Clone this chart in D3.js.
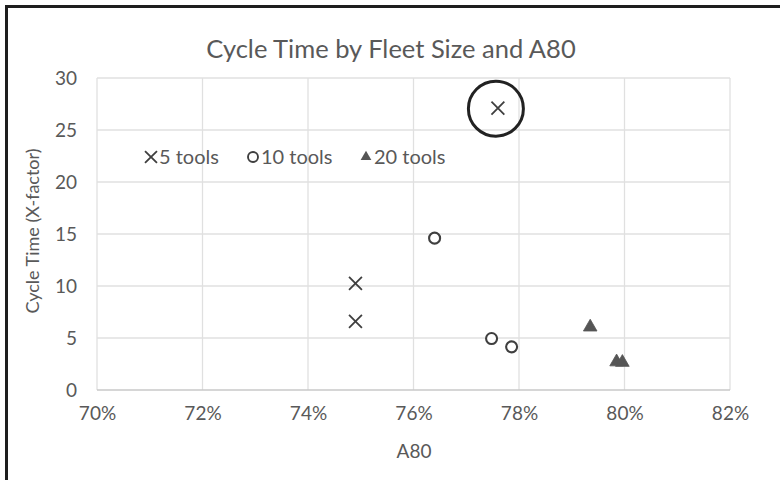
<!DOCTYPE html>
<html><head><meta charset="utf-8">
<script src="https://cdn.jsdelivr.net/npm/d3@7"></script>
<style>
html,body{margin:0;padding:0;background:#fff;}
svg{display:block;}
text{font-family:Lato, "Open Sans", sans-serif;}
</style></head>
<body>
<svg id="c" width="780" height="480"></svg>
<script>
const title = "Cycle Time by Fleet Size and A80";
const xTitle = "A80";
const yTitle = "Cycle Time (X-factor)";
const xTicks = [0.70, 0.72, 0.74, 0.76, 0.78, 0.80, 0.82];
const yTicks = [0, 5, 10, 15, 20, 25, 30];
const seriesNames = ["5 tools", "10 tools", "20 tools"];
const tools5 = [[0.749, 10.25], [0.749, 6.6], [0.776, 27.1]];
const tools10 = [[0.764, 14.6], [0.7748, 4.95], [0.7786, 4.15]];
const tools20 = [[0.7935, 6.05], [0.7985, 2.7], [0.7996, 2.65]];
const highlighted = [0.776, 27.1];

const svg = d3.select("#c");
const M = {l: 97, r: 730, t: 78, b: 390};
const x = d3.scaleLinear().domain([0.70, 0.82]).range([M.l, M.r]);
const y = d3.scaleLinear().domain([0, 30]).range([M.b, M.t]);
const txt = "#595959", mark = "#3f3f3f";

// outer frame
svg.append("rect").attr("x", 6.5).attr("y", 6.5).attr("width", 800).attr("height", 600)
  .attr("fill", "#fff").attr("stroke", "#1e1e1e").attr("stroke-width", 3);

// gridlines
svg.append("g").selectAll("line.v").data(xTicks).join("line")
  .attr("x1", d => x(d)).attr("x2", d => x(d)).attr("y1", M.t).attr("y2", M.b)
  .attr("stroke", "#e0e0e0").attr("stroke-width", 1.3);
svg.append("g").selectAll("line.h").data(yTicks).join("line")
  .attr("x1", M.l).attr("x2", M.r).attr("y1", d => y(d)).attr("y2", d => y(d))
  .attr("stroke", d => d === 0 ? "#c8c8c8" : "#e0e0e0").attr("stroke-width", d => d === 0 ? 1.6 : 1.3);

// axes
const xAxis = svg.append("g").attr("transform", `translate(0,${M.b})`)
  .call(d3.axisBottom(x).tickValues(xTicks).tickFormat(d3.format(".0%")).tickSize(0).tickPadding(17));
xAxis.select(".domain").remove();
xAxis.selectAll("text").attr("fill", txt).style("font-size", "19px").style("font-family", "Lato, sans-serif");

const yAxis = svg.append("g").attr("transform", `translate(${M.l},0)`)
  .call(d3.axisLeft(y).tickValues(yTicks).tickSize(0).tickPadding(20));
yAxis.select(".domain").remove();
yAxis.selectAll("text").attr("fill", txt).style("font-size", "19px").style("font-family", "Lato, sans-serif");

// titles
svg.append("text").attr("x", 391).attr("y", 58).attr("text-anchor", "middle")
  .attr("fill", txt).style("font-size", "25.5px").text(title);
svg.append("text").attr("x", 414).attr("y", 458).attr("text-anchor", "middle")
  .attr("fill", txt).style("font-size", "19px").text(xTitle);
svg.append("text").attr("transform", "translate(39,231) rotate(-90)").attr("text-anchor", "middle")
  .attr("fill", txt).style("font-size", "18px").text(yTitle);

// markers
const cross = d3.symbol().type(d3.symbolX).size(110);
svg.append("g").selectAll("path").data(tools5).join("path")
  .attr("transform", d => `translate(${x(d[0])},${y(d[1])})`)
  .attr("d", cross).attr("fill", "none").attr("stroke", mark).attr("stroke-width", 1.8);
svg.append("g").selectAll("circle").data(tools10).join("circle")
  .attr("cx", d => x(d[0])).attr("cy", d => y(d[1])).attr("r", 5.5)
  .attr("fill", "#fff").attr("stroke", mark).attr("stroke-width", 2.1);
const tri = d3.symbol().type(d3.symbolTriangle).size(80);
svg.append("g").selectAll("path").data(tools20).join("path")
  .attr("transform", d => `translate(${x(d[0])},${y(d[1])})`)
  .attr("d", tri).attr("fill", "#555").attr("stroke", "#555").attr("stroke-width", 0.8);

// highlight circle
svg.append("circle").attr("cx", x(highlighted[0]) - 2).attr("cy", y(highlighted[1]) + 0.5).attr("r", 27.5)
  .attr("fill", "none").attr("stroke", "#222").attr("stroke-width", 3);

// legend
const legY = 157;
const leg = svg.append("g");
const legX = [151, 253, 366];
leg.append("path").attr("transform", `translate(${legX[0]},${legY})`).attr("d", d3.symbol().type(d3.symbolX).size(95))
  .attr("fill", "none").attr("stroke", mark).attr("stroke-width", 1.8);
leg.append("circle").attr("cx", legX[1]).attr("cy", legY).attr("r", 5)
  .attr("fill", "#fff").attr("stroke", mark).attr("stroke-width", 1.9);
leg.append("path").attr("transform", `translate(${legX[2]},${legY})`).attr("d", d3.symbol().type(d3.symbolTriangle).size(50))
  .attr("fill", "#555");
leg.selectAll("text").data(seriesNames).join("text")
  .attr("x", (d, i) => legX[i] + 8).attr("y", legY + 7)
  .attr("fill", txt).style("font-size", "20px").text(d => d);
</script>
</body></html>
